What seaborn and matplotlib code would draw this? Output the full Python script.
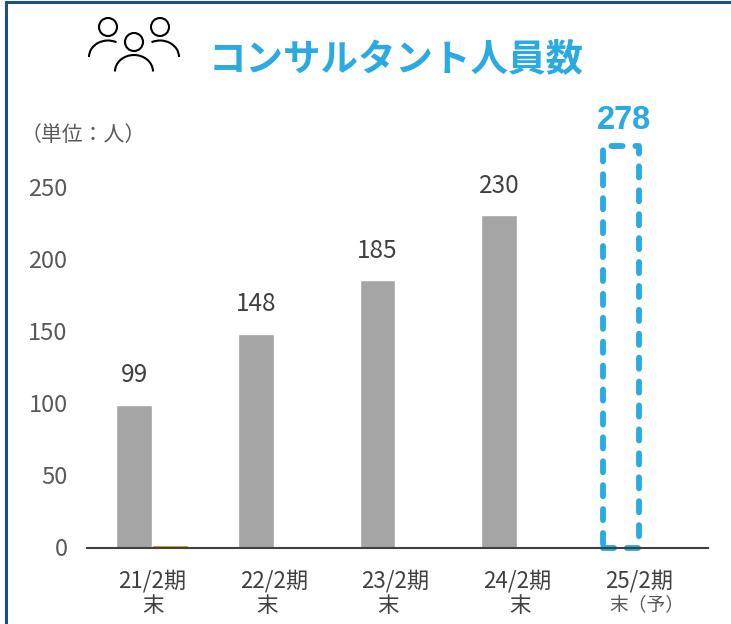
import pandas as pd
import matplotlib.pyplot as plt
import matplotlib.patches as mpatches
import seaborn as sns

periods = ["21/2期", "22/2期", "23/2期", "24/2期", "25/2期"]
consultants = [99, 148, 185, 230, 278]
other_series = [1.5, 0, 0, 0, 0]
second_lines = ["末", "末", "末", "末", "末（予）"]
y_ticks = [0, 50, 100, 150, 200, 250]

BLUE = "#29ABE2"
NAVY = "#1F4E86"
W, H = 731, 624

sns.set_theme(style="white")
plt.rcParams["font.family"] = ["Noto Sans CJK JP", "DejaVu Sans"]

df = pd.DataFrame({
    "period": periods * 2,
    "value": consultants + other_series,
    "series": ["人員数"] * 5 + ["その他"] * 5,
})

fig = plt.figure(figsize=(W / 100, H / 100), dpi=100)

# chart area, placed from the pixel positions of the reference
ax = fig.add_axes([87 / W, 1 - 547.5 / H, (708 - 87) / W, (547.5 - 120) / H])
sns.barplot(data=df, x="period", y="value", hue="series", order=periods,
            hue_order=["人員数", "その他"], palette=["#A5A5A5", "#BF9000"],
            saturation=1, width=0.585, gap=0, legend=False, ax=ax)

ax.set_xlim(-0.534, 4.569)
ax.set_ylim(0, 427.5 / 1.444)
ax.set_xlabel("")
ax.set_ylabel("")
ax.set_yticks(y_ticks)
ax.patch.set_alpha(0)
ax.tick_params(axis="y", length=0, pad=14, labelsize=17, labelcolor="#595959")
ax.tick_params(axis="x", length=0, pad=15.5, labelsize=16, labelcolor="#404040")
sns.despine(ax=ax, left=True)
ax.spines["bottom"].set_color("#404040")
ax.spines["bottom"].set_linewidth(1.5)

# forecast bar is only a dashed outline
bars = ax.containers[0]
last = bars[-1]
last.set_facecolor("none")
last.set_edgecolor(BLUE)
last.set_linewidth(4.2)
last.set_linestyle((0, (1.9, 2.2)))
last.set_capstyle("round")
last.set_joinstyle("round")
last.set_clip_on(False)

for rect, val in zip(bars, consultants):
    cx = rect.get_x() + rect.get_width() / 2
    if val == consultants[-1]:
        ax.annotate(str(val), (cx, val), xytext=(2, 7), textcoords="offset points",
                    ha="center", va="bottom", fontsize=23.5, fontweight="bold",
                    color=BLUE, family="Liberation Sans")
    else:
        ax.annotate(str(val), (cx, val), xytext=(0, 12), textcoords="offset points",
                    ha="center", va="bottom", fontsize=17.5, color="#404040")

# second row of the category labels, they sit a bit off centre in the original
trans = ax.get_xaxis_transform()
row2_shift = [1, -5, -5, 2, 5.5]
for i, txt in enumerate(second_lines):
    small = i == len(second_lines) - 1
    ax.annotate(txt, (i, 0), xycoords=trans, xytext=(row2_shift[i], -34),
                textcoords="offset points", ha="center", va="top",
                fontsize=13.5 if small else 15.5, color="#595959" if small else "#404040")

# overlay in pixel coordinates for frame, icon and titles
ov = fig.add_axes([0, 0, 1, 1], zorder=-1)
ov.set_xlim(0, W)
ov.set_ylim(H, 0)
ov.axis("off")

ov.plot([6, 6, W], [H, 2, 2], color=NAVY, lw=2.2, solid_joinstyle="miter")

for cx, cy in [(108, 27), (160, 27), (134, 42)]:
    ov.add_patch(mpatches.Circle((cx, cy), 9, color="black", lw=1.5, fill=False))
for cx, cy, t1, t2 in [(108, 57, 180, 300), (160, 57, 240, 360), (134, 71.5, 180, 360)]:
    ov.add_patch(mpatches.Arc((cx, cy), 38, 33, theta1=t1, theta2=t2, color="black", lw=1.5))

ov.text(396.5, 59, "コンサルタント人員数", ha="center", va="center", fontsize=27,
        fontweight="bold", color=BLUE)
ov.text(83, 135, "（単位：人）", ha="center", va="center", fontsize=15, color="#595959")

fig.savefig("out.png", dpi=100)
